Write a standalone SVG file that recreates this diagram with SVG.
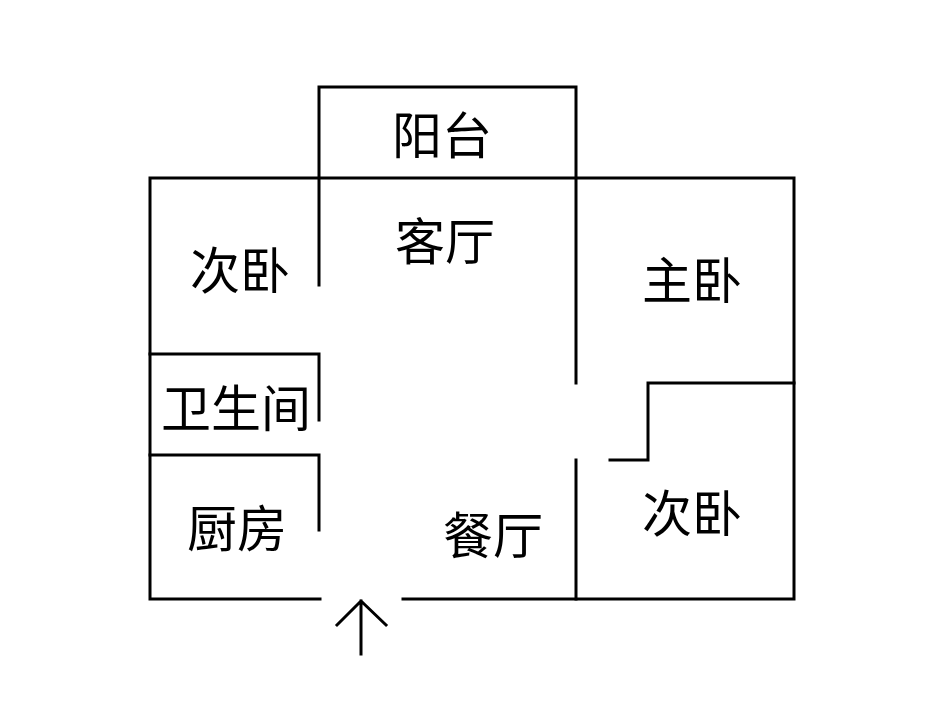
<svg xmlns="http://www.w3.org/2000/svg" width="937" height="716" viewBox="0 0 937 716">
<style>
.w{stroke:#000;stroke-width:3;fill:none;stroke-linecap:square}
.t{font-family:"Liberation Serif","Noto Sans CJK SC",serif;font-size:50px;fill:#000;text-anchor:middle;dominant-baseline:central}
</style>
<rect width="937" height="716" fill="#fff"/>
<g id="walls" class="w">
<path d="M150,178H794V599H403M320,599H150V178"/>
<path d="M319,285V87H576V383M576,460V599"/>
<path d="M150,354H319V420M150,455H319V530"/>
<path d="M794,383H648V460H610"/>
</g>
<g id="entrance" class="w">
<path d="M361,654V601M337,625L361,601L386,625"/>
</g>
<g id="labels">
<text class="t" x="442" y="137">阳台</text>
<text class="t" x="445" y="243">客厅</text>
<text class="t" x="240" y="272">次卧</text>
<text class="t" x="692" y="282">主卧</text>
<text class="t" x="236" y="410">卫生间</text>
<text class="t" x="237" y="530">厨房</text>
<text class="t" x="493" y="537">餐厅</text>
<text class="t" x="692" y="515">次卧</text>
</g>
</svg>
